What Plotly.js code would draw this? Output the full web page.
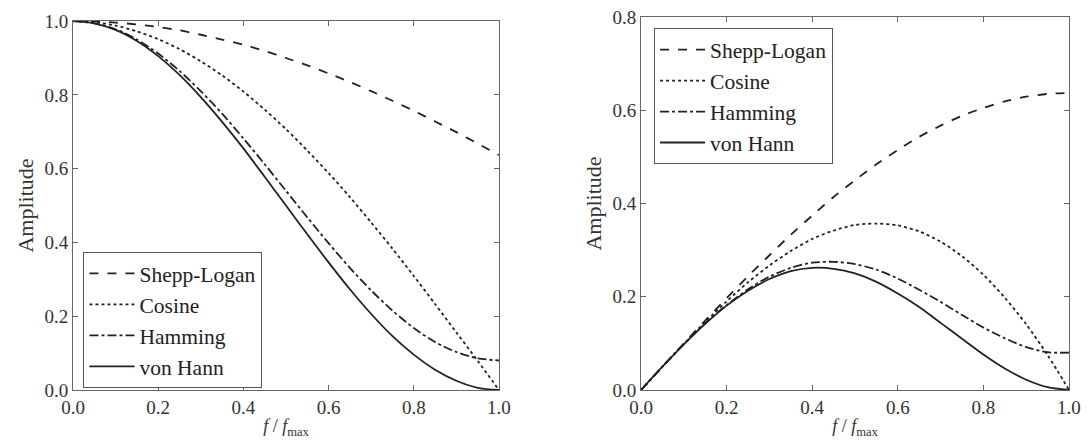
<!DOCTYPE html>
<html><head><meta charset="utf-8">
<script src="https://cdn.plot.ly/plotly-3.0.1.min.js"></script>
<style>
html,body{margin:0;padding:0;background:#fff}
#chart{width:1087px;height:448px}
</style>
</head><body><div id="chart"></div>
<script>
// normalized frequency f/fmax
const freq = [0, 0.05, 0.1, 0.15, 0.2, 0.25, 0.3, 0.35, 0.4, 0.45, 0.5, 0.55, 0.6, 0.65, 0.7, 0.75, 0.8, 0.85, 0.9, 0.95, 1.0];
const seriesNames = ["Shepp-Logan", "Cosine", "Hamming", "von Hann"];
// left panel: window amplitudes
const winShepp   = [1.0, 0.999, 0.996, 0.991, 0.984, 0.975, 0.963, 0.950, 0.936, 0.919, 0.900, 0.880, 0.858, 0.835, 0.810, 0.784, 0.757, 0.728, 0.699, 0.668, 0.637];
const winCosine  = [1.0, 0.997, 0.988, 0.972, 0.951, 0.924, 0.891, 0.853, 0.809, 0.760, 0.707, 0.649, 0.588, 0.523, 0.454, 0.383, 0.309, 0.233, 0.156, 0.079, 0.0];
const winHamming = [1.0, 0.994, 0.978, 0.950, 0.912, 0.865, 0.810, 0.749, 0.682, 0.612, 0.540, 0.468, 0.398, 0.331, 0.270, 0.215, 0.168, 0.130, 0.103, 0.086, 0.080];
const winHann    = [1.0, 0.994, 0.976, 0.946, 0.905, 0.854, 0.794, 0.727, 0.655, 0.578, 0.500, 0.422, 0.346, 0.273, 0.206, 0.146, 0.096, 0.055, 0.025, 0.006, 0.0];
// right panel: filtered ramp amplitudes
const filtShepp   = [0, 0.050, 0.100, 0.149, 0.197, 0.244, 0.289, 0.333, 0.374, 0.414, 0.450, 0.484, 0.515, 0.543, 0.567, 0.588, 0.605, 0.619, 0.629, 0.635, 0.637];
const filtCosine  = [0, 0.050, 0.099, 0.146, 0.190, 0.231, 0.267, 0.298, 0.324, 0.342, 0.354, 0.357, 0.353, 0.340, 0.318, 0.287, 0.247, 0.198, 0.141, 0.075, 0.0];
const filtHamming = [0, 0.050, 0.098, 0.143, 0.182, 0.216, 0.243, 0.262, 0.273, 0.275, 0.270, 0.258, 0.239, 0.215, 0.189, 0.161, 0.134, 0.111, 0.092, 0.081, 0.080];
const filtHann    = [0, 0.050, 0.098, 0.142, 0.181, 0.213, 0.238, 0.255, 0.262, 0.260, 0.250, 0.232, 0.207, 0.178, 0.144, 0.110, 0.076, 0.046, 0.022, 0.006, 0.0];
const xTicks = [0, 0.2, 0.4, 0.6, 0.8, 1.0];
const xTickText = ["0.0", "0.2", "0.4", "0.6", "0.8", "1.0"];
const yTicksLeft = [0, 0.2, 0.4, 0.6, 0.8, 1.0];
const yTicksRight = [0, 0.2, 0.4, 0.6, 0.8];

const FAM = "Liberation Serif";
const dashes = ["dash", "dot", "dashdot", "solid"];
const leftData = [winShepp, winCosine, winHamming, winHann];
const rightData = [filtShepp, filtCosine, filtHamming, filtHann];
const traces = [];
leftData.forEach((ys, i) => traces.push({
  x: freq, y: ys, xaxis: "x", yaxis: "y", name: seriesNames[i], legend: "legend",
  mode: "lines", line: {color: "#222", width: 1.8, dash: dashes[i], shape: "spline", smoothing: 0.8}
}));
rightData.forEach((ys, i) => traces.push({
  x: freq, y: ys, xaxis: "x2", yaxis: "y2", name: seriesNames[i], legend: "legend2",
  mode: "lines", line: {color: "#222", width: 1.8, dash: dashes[i], shape: "spline", smoothing: 0.8}
}));

function axis(extra) {
  return Object.assign({
    showgrid: false, zeroline: false, showline: true, linecolor: "#666", linewidth: 1,
    mirror: "ticks", ticks: "inside", ticklen: 5, tickcolor: "#666",
    tickfont: {family: FAM, size: 19, color: "#333"}
  }, extra);
}
function xTitle() { return {text: "<i>f</i> / <i>f</i><sub>max</sub>", font: {family: FAM, size: 18, color: "#333"}, standoff: 2}; }
function yTitle() { return {text: "Amplitude", font: {family: FAM, size: 22, color: "#333"}, standoff: 4}; }
function legendBox(x, y) {
  return {x: x, y: y, xanchor: "left", yanchor: "top", bgcolor: "#fff", bordercolor: "#555", borderwidth: 1,
          font: {family: FAM, size: 21.5, color: "#222"}, tracegroupgap: 0, itemwidth: 45};
}

const layout = {
  width: 1087, height: 448,
  margin: {l: 73, r: 18, t: 17, b: 58},
  paper_bgcolor: "#fff", plot_bgcolor: "#fff",
  font: {family: FAM, size: 19, color: "#333"},
  xaxis: axis({domain: [0, 0.4277], range: [0, 1], tickvals: xTicks, ticktext: xTickText, title: xTitle(), anchor: "y"}),
  yaxis: axis({domain: [0, 0.989], range: [0, 1], tickvals: yTicksLeft, tickformat: ".1f", title: yTitle(), anchor: "x"}),
  xaxis2: axis({domain: [0.5703, 1], range: [0, 1], tickvals: xTicks, ticktext: xTickText, title: xTitle(), anchor: "y2"}),
  yaxis2: axis({domain: [0, 1], range: [0, 0.8], tickvals: yTicksRight, tickformat: ".1f", title: yTitle(), anchor: "x2"}),
  legend: legendBox(0.0105, 0.37),
  legend2: legendBox(0.5834, 0.97),
  showlegend: true
};
Plotly.newPlot("chart", traces, layout, {staticPlot: true}).then(() => {
  document.querySelectorAll("#chart text").forEach(t => t.style.setProperty("font-family", "'Liberation Serif'", "important"));
});
</script></body></html>
